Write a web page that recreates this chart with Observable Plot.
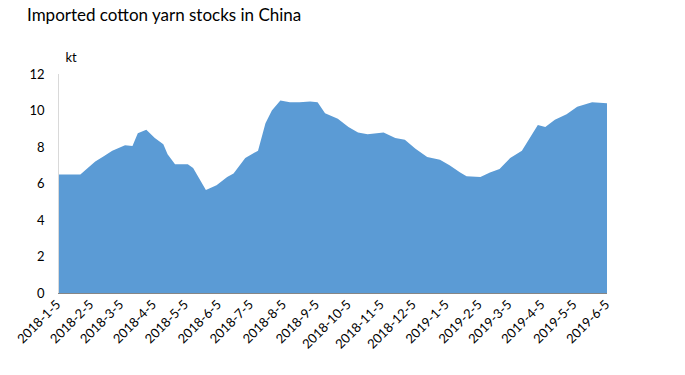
<!DOCTYPE html>
<html>
<head>
<meta charset="utf-8">
<script src="https://cdn.jsdelivr.net/npm/d3@7"></script>
<script src="https://cdn.jsdelivr.net/npm/@observablehq/plot@0.6"></script>
<style>
  body { margin: 0; background: #fff; font-family: Lato, "Open Sans", sans-serif; }
  #title { height: 30px; padding-left: 27px; font-size: 17px; line-height: 30px; color: #000; box-sizing: border-box; }
</style>
</head>
<body>
<div id="title">Imported cotton yarn stocks in China</div>
<div id="chart"></div>
<script>
const dates = [
  "2018-01-05","2018-01-26","2018-02-09","2018-02-17","2018-02-25","2018-03-09","2018-03-16","2018-03-21",
  "2018-03-29","2018-04-06","2018-04-14","2018-04-18","2018-04-25","2018-05-07","2018-05-12","2018-05-24",
  "2018-06-03","2018-06-13","2018-06-19","2018-06-30","2018-07-12","2018-07-19","2018-07-25","2018-08-02",
  "2018-08-11","2018-08-20","2018-08-30","2018-09-06","2018-09-13","2018-09-25","2018-10-05","2018-10-14",
  "2018-10-23","2018-11-07","2018-11-18","2018-11-27","2018-12-07","2018-12-18","2018-12-30","2019-01-08",
  "2019-01-18","2019-01-24","2019-02-06","2019-02-15","2019-02-24","2019-03-06","2019-03-17","2019-03-25",
  "2019-04-01","2019-04-08","2019-04-17","2019-04-28","2019-05-08","2019-05-22","2019-06-05"
];
const stocks = [
  6.5, 6.5, 7.2, 7.5, 7.8, 8.1, 8.05, 8.75,
  8.95, 8.5, 8.15, 7.6, 7.05, 7.05, 6.85, 5.65,
  5.9, 6.35, 6.55, 7.4, 7.8, 9.3, 10.0, 10.55,
  10.45, 10.45, 10.5, 10.45, 9.85, 9.55, 9.1, 8.8,
  8.7, 8.8, 8.5, 8.4, 7.9, 7.45, 7.3, 7.0,
  6.6, 6.4, 6.35, 6.6, 6.8, 7.4, 7.8, 8.55,
  9.2, 9.1, 9.5, 9.8, 10.2, 10.45, 10.4
];
const xTickLabels = [
  "2018-1-5","2018-2-5","2018-3-5","2018-4-5","2018-5-5","2018-6-5","2018-7-5","2018-8-5","2018-9-5",
  "2018-10-5","2018-11-5","2018-12-5","2019-1-5","2019-2-5","2019-3-5","2019-4-5","2019-5-5","2019-6-5"
];
const yTicks = [0, 2, 4, 6, 8, 10, 12];
const unitLabel = "kt";

const parse = d3.utcParse("%Y-%m-%d");
const data = dates.map((d, i) => ({date: parse(d), value: stocks[i]}));
const tickDates = xTickLabels.map(parse);
const labelOf = new Map(tickDates.map((d, i) => [+d, xTickLabels[i]]));

const chart = Plot.plot({
  width: 685,
  height: 345,
  marginLeft: 58,
  marginRight: 78,
  marginTop: 44,
  marginBottom: 82,
  style: {fontFamily: "Lato, 'Open Sans', sans-serif", fontSize: "13px", color: "#000", background: "#fff"},
  x: {type: "utc", domain: [tickDates[0], tickDates[tickDates.length - 1]]},
  y: {domain: [0, 12]},
  marks: [
    Plot.areaY(data, {x: "date", y: "value", fill: "#5B9BD5"}),
    Plot.ruleX([tickDates[0]], {stroke: "#d9d9d9"}),
    Plot.ruleY([0], {stroke: "#868686"}),
    Plot.axisY({ticks: yTicks, tickSize: 0, tickPadding: 14, label: null, fontSize: 13}),
    Plot.axisX({ticks: tickDates, tickSize: 0, tickPadding: 9, tickRotate: -45, label: null,
      tickFormat: d => labelOf.get(+d), fontSize: 13}),
    Plot.text([unitLabel], {frameAnchor: "top-left", dx: 7, dy: -22, fontSize: 13, textAnchor: "start"})
  ]
});
document.getElementById("chart").appendChild(chart);
</script>
</body>
</html>
